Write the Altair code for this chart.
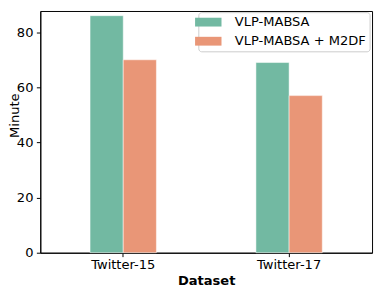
import altair as alt
import pandas as pd

datasets = ["Twitter-15", "Twitter-17"]
series = ["VLP-MABSA", "VLP-MABSA + M2DF"]
vlp_mabsa = [86, 69]
vlp_mabsa_m2df = [70, 57]
colors = ["#72b9a2", "#e99677"]

rows = []
for i, d in enumerate(datasets):
    rows.append({"Dataset": d, "Model": series[0], "Minute": vlp_mabsa[i]})
    rows.append({"Dataset": d, "Model": series[1], "Minute": vlp_mabsa_m2df[i]})
df = pd.DataFrame(rows)

FONT = "DejaVu Sans"
FS = 13.33

chart = alt.Chart(df).mark_bar(
    stroke="#ffffff", strokeOpacity=0.5, strokeWidth=1
).encode(
    x=alt.X("Dataset:N", sort=datasets,
            scale=alt.Scale(paddingInner=0.6, paddingOuter=0.3),
            axis=alt.Axis(title="Dataset", labelAngle=0, tickSize=4,
                          labelPadding=1, titleFontWeight="bold",
                          titleBaseline="alphabetic", titleY=32.5)),
    xOffset=alt.XOffset("Model:N", sort=series,
                        scale=alt.Scale(paddingInner=0, paddingOuter=0)),
    y=alt.Y("Minute:Q",
            scale=alt.Scale(domain=[0, 87.7], nice=False, zero=True),
            axis=alt.Axis(title="Minute", values=[0, 20, 40, 60, 80],
                          tickSize=4, labelPadding=3.5, grid=False,
                          titleBaseline="alphabetic", titleAngle=-90,
                          titleX=-22.3, titleY=106.5)),
    color=alt.Color("Model:N", sort=series,
                    scale=alt.Scale(domain=series, range=colors),
                    legend=alt.Legend(title=None, orient="none",
                                      legendX=161.5, legendY=1.2)),
).properties(
    width=339, height=247,
    autosize=alt.AutoSizeParams(type="none"),
    padding={"left": 33, "top": 0, "right": 2, "bottom": 34},
).configure(
    font=FONT,
).configure_view(
    stroke="black", strokeWidth=1,
).configure_axis(
    domainColor="black", tickColor="black", labelColor="black",
    titleColor="black", labelFont=FONT, titleFont=FONT,
    labelFontSize=FS, titleFontSize=FS, titleFontWeight="normal",
    domainWidth=1, tickWidth=1,
).configure_legend(
    labelFont=FONT, labelFontSize=FS, labelColor="black",
    symbolType="M-3,-1H3V1H-3Z", symbolSize=81,
    symbolStrokeWidth=0, symbolOpacity=1, labelOffset=20.4,
    padding=3.5, rowPadding=5.5, fillColor="white", strokeColor="#cccccc",
    cornerRadius=3,
)

chart.save("out.html", embed_options={"renderer": "svg", "actions": False})
